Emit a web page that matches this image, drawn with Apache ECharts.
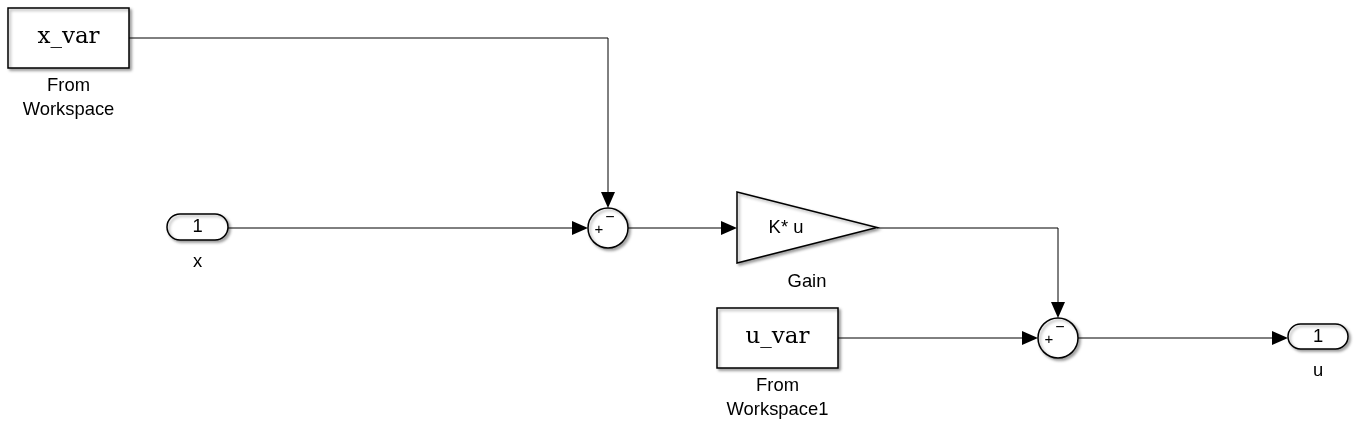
<!DOCTYPE html>
<html>
<head>
<meta charset="utf-8">
<title>Simulink diagram</title>
<script src="https://cdn.jsdelivr.net/npm/echarts@6/dist/echarts.min.js"></script>
<style>
    html, body { margin: 0; padding: 0; background: #fff; }
    #main { width: 1359px; height: 431px; }
</style>
</head>
<body>
<div id="main"></div>
<script>
// 模块数据 (图坐标)
var fromNames = ['x_var', 'u_var'];
var fromLabels = ['From\nWorkspace', 'From\nWorkspace1'];
var fromPos = [[8, 8, 121, 60], [717, 308, 121, 60]];      // x, y, w, h

var portNums = ['1', '1'];
var portLabels = ['x', 'u'];
var portPos = [[167, 214, 61, 26], [1288, 324, 60, 25]];

var sumPos = [[608, 228, 20], [1058, 338, 20]];            // cx, cy, r

var gainText = ['K* u'];
var gainLabels = ['Gain'];
var gainPos = [[737, 192, 140, 71]];

// 信号线, 最后一点为箭头
var signals = [
    [[129, 38], [608, 38], [608, 208]],
    [[228, 228], [588, 228]],
    [[628, 228], [737, 228]],
    [[877, 228], [1058, 228], [1058, 318]],
    [[838, 338], [1038, 338]],
    [[1078, 338], [1288, 338]]
];

var SANS = '18.4px "Liberation Sans", Arial, sans-serif';
var SERIF = '23px "DejaVu Serif", Georgia, serif';
var SHADOW = {shadowBlur: 3, shadowOffsetX: 2, shadowOffsetY: 2, shadowColor: 'rgba(0,0,0,0.35)'};

function idx(arr) {
    return arr.map(function (v, i) { return [i, 0]; });
}

function withShadow(style) {
    for (var k in SHADOW) style[k] = SHADOW[k];
    return style;
}

function labelBelow(text, cx, top) {
    return {
        type: 'text',
        style: {text: text, x: cx, y: top, align: 'center', verticalAlign: 'top',
            font: SANS, lineHeight: 24, fill: '#000'}
    };
}

function renderSignal(params, api) {
    var pts = signals[api.value(0)].map(function (p) { return api.coord(p); });
    var n = pts.length, end = pts[n - 1], prev = pts[n - 2];
    var dx = end[0] - prev[0], dy = end[1] - prev[1];
    var len = Math.sqrt(dx * dx + dy * dy);
    var ux = dx / len, uy = dy / len;
    var L = 16, W = 7;
    var base = [end[0] - ux * L, end[1] - uy * L];
    return {
        type: 'group',
        children: [
            {type: 'polyline', shape: {points: pts.slice(0, n - 1).concat([base])},
                style: {stroke: '#000', lineWidth: 1, fill: null}},
            {type: 'polygon', shape: {points: [end, [base[0] - uy * W, base[1] + ux * W], [base[0] + uy * W, base[1] - ux * W]]},
                style: {fill: '#000'}}
        ]
    };
}

function renderFrom(params, api) {
    var i = api.value(0), b = fromPos[i];
    var p0 = api.coord([b[0], b[1]]), p1 = api.coord([b[0] + b[2], b[1] + b[3]]);
    var cx = (p0[0] + p1[0]) / 2;
    return {
        type: 'group',
        children: [
            {type: 'rect', shape: {x: p0[0], y: p0[1], width: p1[0] - p0[0], height: p1[1] - p0[1]},
                style: withShadow({fill: '#fff', stroke: '#000', lineWidth: 1.5})},
            {type: 'text', style: {text: fromNames[i], x: cx, y: (p0[1] + p1[1]) / 2 - 1,
                align: 'center', verticalAlign: 'middle', font: SERIF, fill: '#000'}},
            labelBelow(fromLabels[i], cx, p1[1] + 6)
        ]
    };
}

function renderPort(params, api) {
    var i = api.value(0), b = portPos[i];
    var p0 = api.coord([b[0], b[1]]), p1 = api.coord([b[0] + b[2], b[1] + b[3]]);
    var h = p1[1] - p0[1];
    var cx = (p0[0] + p1[0]) / 2;
    return {
        type: 'group',
        children: [
            {type: 'rect', shape: {x: p0[0], y: p0[1], width: p1[0] - p0[0], height: h, r: h / 2},
                style: withShadow({fill: '#fff', stroke: '#000', lineWidth: 1.5})},
            {type: 'text', style: {text: portNums[i], x: cx, y: (p0[1] + p1[1]) / 2,
                align: 'center', verticalAlign: 'middle', font: SANS, fill: '#000'}},
            labelBelow(portLabels[i], cx, p1[1] + 10)
        ]
    };
}

function renderSum(params, api) {
    var s = sumPos[api.value(0)];
    var c = api.coord([s[0], s[1]]);
    var r = api.coord([s[0] + s[2], s[1]])[0] - c[0];
    return {
        type: 'group',
        children: [
            {type: 'circle', shape: {cx: c[0], cy: c[1], r: r},
                style: withShadow({fill: '#fff', stroke: '#000', lineWidth: 1.5})},
            {type: 'text', style: {text: '+', x: c[0] - 9, y: c[1] + 2, align: 'center', verticalAlign: 'middle',
                font: '15px "Liberation Sans", Arial, sans-serif', fill: '#000'}},
            {type: 'text', style: {text: '\u2212', x: c[0] + 2, y: c[1] - 10, align: 'center', verticalAlign: 'middle',
                font: '16px "Liberation Sans", Arial, sans-serif', fill: '#000'}}
        ]
    };
}

function renderGain(params, api) {
    var i = api.value(0), b = gainPos[i];
    var p0 = api.coord([b[0], b[1]]), p1 = api.coord([b[0] + b[2], b[1] + b[3]]);
    var cy = (p0[1] + p1[1]) / 2;
    return {
        type: 'group',
        children: [
            {type: 'polygon', shape: {points: [[p0[0], p0[1]], [p1[0], cy], [p0[0], p1[1]]]},
                style: withShadow({fill: '#fff', stroke: '#000', lineWidth: 1.5})},
            {type: 'text', style: {text: gainText[i], x: p0[0] + 49, y: cy,
                align: 'center', verticalAlign: 'middle', font: SANS, fill: '#000'}},
            labelBelow(gainLabels[i], (p0[0] + p1[0]) / 2, p1[1] + 7)
        ]
    };
}

var myChart = echarts.init(document.getElementById('main'));
var option = {
    backgroundColor: '#fff',
    animation: false,
    grid: {left: 0, right: 0, top: 0, bottom: 0},
    xAxis: {type: 'value', min: 0, max: 1359, show: false},
    yAxis: {type: 'value', min: 0, max: 431, inverse: true, show: false},
    series: [
        {type: 'custom', name: 'signals', renderItem: renderSignal, data: idx(signals), z: 1},
        {type: 'custom', name: 'from', renderItem: renderFrom, data: idx(fromPos), z: 2},
        {type: 'custom', name: 'ports', renderItem: renderPort, data: idx(portPos), z: 2},
        {type: 'custom', name: 'sums', renderItem: renderSum, data: idx(sumPos), z: 2},
        {type: 'custom', name: 'gain', renderItem: renderGain, data: idx(gainPos), z: 2}
    ]
};
myChart.setOption(option);   //加载
</script>
</body>
</html>
